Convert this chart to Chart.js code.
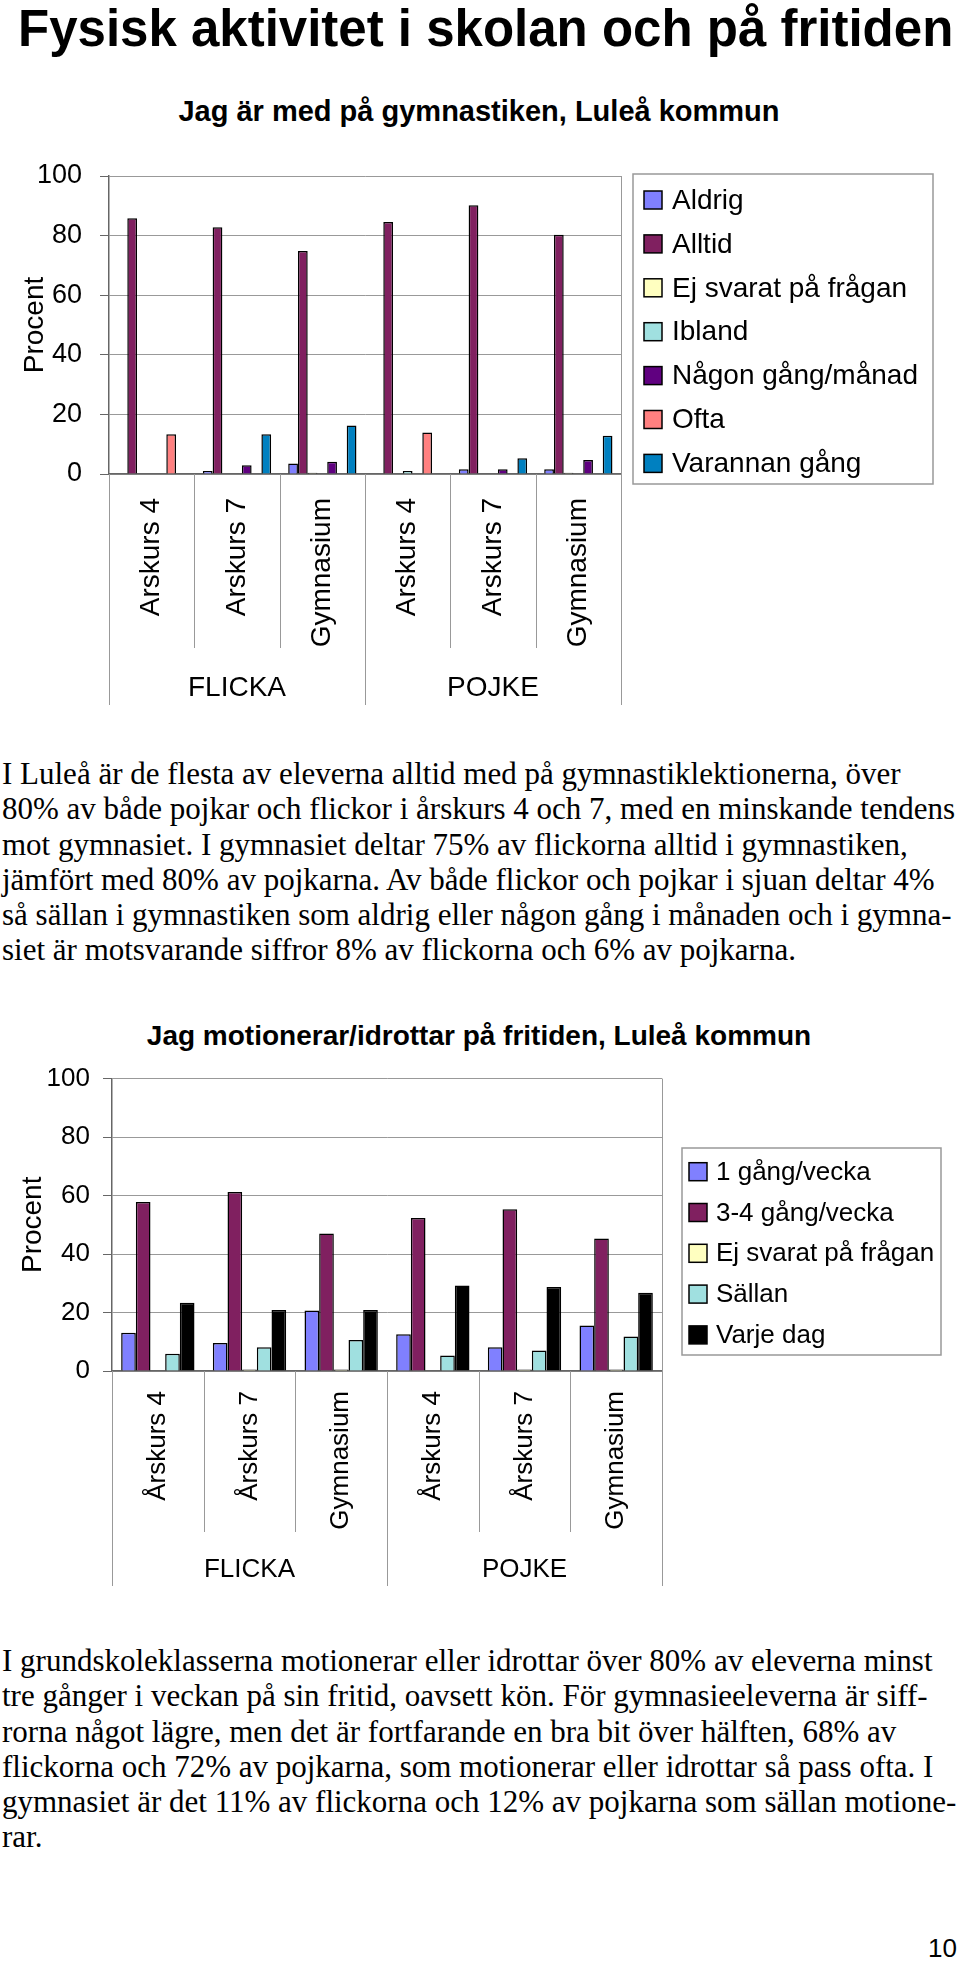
<!doctype html>
<html>
<head>
<meta charset="utf-8">
<title>Fysisk aktivitet i skolan och på fritiden</title>
<script src="https://cdn.jsdelivr.net/npm/chart.js@4.4.1/dist/chart.umd.min.js"></script>
<style>
  html, body { margin: 0; padding: 0; background: #fff; }
  #page { position: relative; width: 960px; height: 1963px; overflow: hidden; font-family: 'Liberation Sans', Arial, sans-serif; color: #000; }
  .abs { position: absolute; white-space: nowrap; }
  #title { left: 18px; top: 3px; font-size: 51px; font-weight: bold; line-height: 51px; }
  .ctitle { left: 0; width: 958px; text-align: center; font-weight: bold; line-height: 30px; }
  #t1 { top: 96px; font-size: 29px; }
  #t2 { top: 1021px; font-size: 28px; }
  .para { left: 2px; font-family: 'Liberation Serif', 'Times New Roman', serif; font-size: 31px; line-height: 35.3px; }
  #p1 { top: 756px; }
  #p2 { top: 1643px; }
  #pageno { right: 3px; top: 1935px; font-size: 26px; line-height: 26px; }
  canvas { position: absolute; left: 0; }
  #c1 { top: 140px; }
  #c2 { top: 1050px; }
</style>
</head>
<body>
<div id="page">
  <div id="title" class="abs">Fysisk aktivitet i skolan och på fritiden</div>
  <div id="t1" class="abs ctitle">Jag är med på gymnastiken, Luleå kommun</div>
  <canvas id="c1" width="960" height="580"></canvas>
  <div id="p1" class="abs para">I Luleå är de flesta av eleverna alltid med på gymnastiklektionerna, över<br>80% av både pojkar och flickor i årskurs 4 och 7, med en minskande tendens<br>mot gymnasiet. I gymnasiet deltar 75% av flickorna alltid i gymnastiken,<br>jämfört med 80% av pojkarna. Av både flickor och pojkar i sjuan deltar 4%<br>så sällan i gymnastiken som aldrig eller någon gång i månaden och i gymna-<br>siet är motsvarande siffror 8% av flickorna och 6% av pojkarna.</div>
  <div id="t2" class="abs ctitle">Jag motionerar/idrottar på fritiden, Luleå kommun</div>
  <canvas id="c2" width="960" height="550"></canvas>
  <div id="p2" class="abs para">I grundskoleklasserna motionerar eller idrottar över 80% av eleverna minst<br>tre gånger i veckan på sin fritid, oavsett kön. För gymnasieeleverna är siff-<br>rorna något lägre, men det är fortfarande en bra bit över hälften, 68% av<br>flickorna och 72% av pojkarna, som motionerar eller idrottar så pass ofta. I<br>gymnasiet är det 11% av flickorna och 12% av pojkarna som sällan motione-<br>rar.</div>
  <div id="pageno" class="abs">10</div>
</div>

<script>
// --- data ---
var groups = ['FLICKA', 'POJKE'];

// chart 1: Jag är med på gymnastiken
var classes1 = ['Arskurs 4', 'Arskurs 7', 'Gymnasium', 'Arskurs 4', 'Arskurs 7', 'Gymnasium'];
var aldrig = [0, 1.0, 3.5, 0, 1.6, 1.6];
var alltid = [85.8, 82.8, 74.8, 84.6, 90.2, 80.3];
var ejSvarat1 = [0, 0, 0.4, 0, 0, 0.4];
var ibland = [0, 0, 0, 1.0, 0, 0];
var nagonGang = [0, 2.9, 4.1, 0, 1.6, 4.7];
var ofta = [13.3, 0, 0, 13.9, 0, 0];
var varannan = [0, 13.3, 16.3, 0, 5.3, 12.8];

// chart 2: Jag motionerar/idrottar på fritiden
var classes2 = ['Årskurs 4', 'Årskurs 7', 'Gymnasium', 'Årskurs 4', 'Årskurs 7', 'Gymnasium'];
var enGang = [13.1, 9.6, 20.7, 12.6, 8.1, 15.6];
var treFyra = [57.8, 61.2, 47.0, 52.3, 55.3, 45.3];
var ejSvarat2 = [0, 0.5, 0.5, 0, 0.5, 0.5];
var sallan = [5.9, 8.1, 10.6, 5.3, 7.0, 11.8];
var varjeDag = [23.3, 20.9, 20.9, 29.2, 28.7, 26.8];

var yTicks = [0, 20, 40, 60, 80, 100];

var FONT = "'Liberation Sans', Arial, sans-serif";
Chart.defaults.font.family = FONT;
Chart.defaults.color = '#000';

function bar(label, data, color) {
	return {
		label: label,
		data: data,
		backgroundColor: color,
		borderColor: '#000',
		borderWidth: 1.5,
		borderSkipped: 'bottom',
		categoryPercentage: 0.8,
		barPercentage: 1.0,
	};
}

// category / group separators below the x axis + right border of the plot
var separators = {
	id: 'separators',
	afterDraw(chart, args, o) {
		var ctx = chart.ctx, a = chart.chartArea, x = chart.scales.x;
		var n = chart.data.labels.length;
		var w = (x.right - x.left) / n;
		ctx.save();
		ctx.strokeStyle = '#999';
		ctx.lineWidth = 1;
		ctx.beginPath();
		ctx.moveTo(Math.round(a.right) + 0.5, a.top);
		ctx.lineTo(Math.round(a.right) + 0.5, a.bottom);
		ctx.stroke();
		for (var k = 0; k <= n; k++) {
			var px = Math.round(x.left + k * w) + 0.5;
			var len = (k % o.per === 0) ? o.groupLen : o.tickLen;
			ctx.beginPath();
			ctx.moveTo(px, a.bottom);
			ctx.lineTo(px, a.bottom + len);
			ctx.stroke();
		}
		ctx.fillStyle = '#000';
		ctx.font = o.font;
		ctx.textAlign = 'center';
		ctx.textBaseline = 'middle';
		groups.forEach(function (g, i) {
			var cx = x.left + (i * o.per + o.per / 2) * w;
			ctx.fillText(g, cx, a.bottom + o.labelY);
		});
		ctx.restore();
	}
};

// legend in a grey frame to the right of the plot
var boxLegend = {
	id: 'boxLegend',
	afterDraw(chart, args, o) {
		var ctx = chart.ctx;
		ctx.save();
		ctx.strokeStyle = '#999';
		ctx.lineWidth = 1.5;
		ctx.strokeRect(o.x, o.y, o.w, o.h);
		ctx.font = o.font;
		ctx.textAlign = 'left';
		ctx.textBaseline = 'middle';
		chart.data.datasets.forEach(function (ds, i) {
			var cy = o.firstY + i * o.rowH;
			ctx.fillStyle = ds.backgroundColor;
			ctx.fillRect(o.boxX, cy - o.boxH / 2, o.boxW, o.boxH);
			ctx.strokeStyle = '#000';
			ctx.lineWidth = 1.5;
			ctx.strokeRect(o.boxX, cy - o.boxH / 2, o.boxW, o.boxH);
			ctx.fillStyle = '#000';
			ctx.fillText(ds.label, o.textX, cy + 1);
		});
		ctx.restore();
	}
};

function makeOptions(s) {
	return {
		responsive: false,
		animation: false,
		layout: { padding: { top: s.top, right: s.right, left: 0, bottom: 0 } },
		plugins: {
			legend: { display: false },
			tooltip: { enabled: false },
			separators: s.sep,
			boxLegend: s.legend,
		},
		scales: {
			x: {
				grid: { display: false, drawTicks: false },
				border: { display: true, color: '#666', width: 1.5 },
				ticks: {
					font: { size: s.xFont },
					color: '#000',
					padding: s.xPad,
					minRotation: 90,
					maxRotation: 90,
					autoSkip: false,
				},
				afterFit: function (sc) { sc.height = s.xHeight; },
			},
			y: {
				min: 0,
				max: 100,
				afterBuildTicks: function (sc) { sc.ticks = yTicks.map(function (v) { return { value: v }; }); },
				grid: { color: '#999', lineWidth: 1, tickLength: 9, tickColor: '#666' },
				border: { display: true, color: '#666', width: 1.5 },
				ticks: { font: { size: s.yFont }, color: '#000', padding: s.yPad },
				title: {
					display: true,
					text: 'Procent',
					font: { size: 28 },
					color: '#000',
					padding: { top: s.titlePad, bottom: 0 },
				},
				afterFit: function (sc) { sc.width = s.yWidth; },
			},
		},
	};
}

new Chart(document.getElementById('c1').getContext('2d'), {
	type: 'bar',
	data: {
		labels: classes1,
		datasets: [
			bar('Aldrig', aldrig, '#8080ff'),
			bar('Alltid', alltid, '#802060'),
			bar('Ej svarat på frågan', ejSvarat1, '#ffffc0'),
			bar('Ibland', ibland, '#a0e0e0'),
			bar('Någon gång/månad', nagonGang, '#600080'),
			bar('Ofta', ofta, '#ff8080'),
			bar('Varannan gång', varannan, '#0080c0'),
		],
	},
	options: makeOptions({
		top: 36, right: 339, xFont: 28, xPad: 24, xHeight: 246,
		yFont: 27, yPad: 18, yWidth: 109, titlePad: 18,
		sep: { per: 3, tickLen: 174, groupLen: 231, labelY: 214, font: '28px ' + FONT },
		legend: {
			x: 633, y: 34, w: 300, h: 310, font: '28px ' + FONT,
			firstY: 60, rowH: 43.9, boxX: 644, boxW: 18, boxH: 18, textX: 672,
		},
	}),
	plugins: [separators, boxLegend],
});

new Chart(document.getElementById('c2').getContext('2d'), {
	type: 'bar',
	data: {
		labels: classes2,
		datasets: [
			bar('1 gång/vecka', enGang, '#8080ff'),
			bar('3-4 gång/vecka', treFyra, '#802060'),
			bar('Ej svarat på frågan', ejSvarat2, '#ffffc0'),
			bar('Sällan', sallan, '#a0e0e0'),
			bar('Varje dag', varjeDag, '#000000'),
		],
	},
	options: makeOptions({
		top: 21, right: 298, xFont: 26, xPad: 20, xHeight: 229,
		yFont: 26, yPad: 13, yWidth: 112, titlePad: 16,
		sep: { per: 3, tickLen: 161, groupLen: 215, labelY: 199, font: '26px ' + FONT },
		legend: {
			x: 682, y: 98, w: 259, h: 207, font: '26px ' + FONT,
			firstY: 121.7, rowH: 40.8, boxX: 689, boxW: 18, boxH: 18, textX: 716,
		},
	}),
	plugins: [separators, boxLegend],
});
</script>
</body>
</html>
